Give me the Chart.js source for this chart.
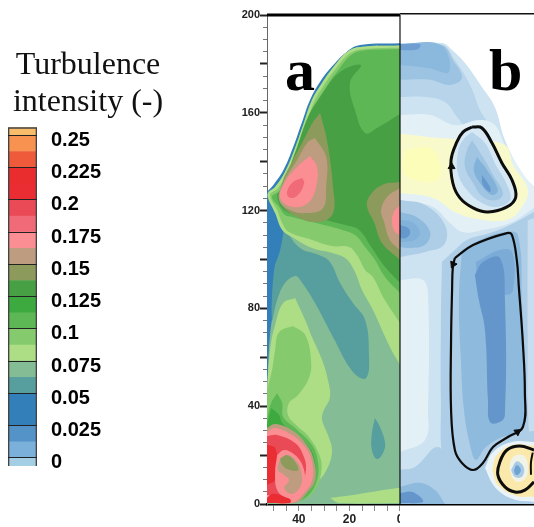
<!DOCTYPE html>
<html>
<head>
<meta charset="utf-8">
<title>Turbulence intensity</title>
<script src="https://cdn.jsdelivr.net/npm/chart.js@4/dist/chart.umd.js"></script>
<style>
  body { margin: 0; background: #fff; width: 534px; height: 527px; overflow: hidden; position: relative; }
  canvas { position: absolute; left: 0; top: 0; }
  #fieldChart { filter: blur(0.5px); }
  .panel { position: absolute; top: 40px; font: bold 60px/60px "Liberation Serif", serif; color: #000; }
</style>
</head>
<body>
<canvas id="fieldChart" width="534" height="527"></canvas>
<canvas id="scaleChart" width="168" height="527"></canvas>
<div class="panel" style="left:285px">a</div>
<div class="panel" style="left:489px">b</div>
<script>
// colour scale
const levels = [0, 0.025, 0.05, 0.075, 0.1, 0.125, 0.15, 0.175, 0.2, 0.225, 0.25];
const levelLabels = ['0', '0.025', '0.05', '0.075', '0.1', '0.125', '0.15', '0.175', '0.2', '0.225', '0.25'];
const bandEdges = [-0.00625, 0, 0.0125, 0.025, 0.0375, 0.05, 0.0625, 0.075, 0.0875, 0.1, 0.1125, 0.125,
  0.1375, 0.15, 0.1625, 0.175, 0.1875, 0.2, 0.2125, 0.225, 0.2375, 0.25, 0.25625];
const bandColors = ['#A4CEE4', '#7AB0DA', '#5393C8', '#337FBA', '#337FBA', '#579E9E', '#84BC95', '#ADDE85',
  '#85CB6E', '#5DB755', '#3CAA3E', '#48A044', '#8C9A5C', '#BE9C80', '#FB8E93', '#F06A78', '#EA4A55', '#E92D32',
  '#E92D2E', '#EE5A3A', '#F79250', '#F9BC6B'];

// axes
const yMajorTicks = [0, 20, 40, 60, 80, 100, 120, 140, 160, 180, 200];
const yLabels = [0, 40, 80, 120, 160, 200];
const xTicks = [50, 45, 40, 35, 30, 25, 20, 15, 10, 5, 0];
const xLabels = [40, 20, 0];

// panel a, contours of turbulence intensity, [r, z]
const aDome = [[0,188.4],[15.8,187.7],[21,185],[26.4,179.5],[31.6,172.7],[35.6,165.2],[38.9,155.7],[42.2,146.1],[46.1,136.6],[50.1,130.5],[52.6,127.7],[52.6,0],[0,0]];
const aBase = [[0,187.5],[15.8,186.9],[20.9,184.9],[25.7,179.5],[30.8,172.2],[34.8,165.2],[38.3,155],[41.5,145.6],[45.5,135.8],[49.4,129.7],[52.2,127.2],[49.4,122.3],[46.2,114.1],[45.5,105.9],[47.4,95.7],[49.4,83.4],[51.4,69.1],[52.2,54.8],[52.6,46.6],[52.6,0],[0,0]];
const aTeal = [[45.8,112.9],[39.5,104.7],[32,101.8],[27.7,99],[23.7,90.4],[18.6,82.2],[13.8,75.3],[12.3,61.8],[13.4,51.5],[18.6,54],[26.5,68.3],[33.6,82.2],[39.5,91.6],[41.5,93.3],[45.5,90.4],[48.6,83.4],[50.6,75.3],[49.8,95.7],[47.4,103.9]];
const aTealSmall = [[9.9,35.2],[11.1,29],[11.1,22.1],[9.1,18.4],[6.7,20.9],[5.9,24.9],[7.9,31.5]];
const aLower075 = [[41.5,84.3],[37.5,75.3],[34.8,68.3],[30.8,58.9],[28.5,50.7],[27.7,43.8],[30.4,37.6],[30.8,34.4],[28.5,28.2],[26.9,22.1],[28.5,15.1],[32.8,8.6],[39.5,2.9],[45.5,0.4],[52.6,0.4],[52.6,46.6],[51.4,63],[49.4,73.2],[46.2,82.2]];
const aFloor075 = [[27.7,2.5],[18.6,3.7],[1.2,6.5],[0,6.5],[0,0.4],[23.7,0.4]];
const aLower09 = [[42.3,72.8],[37.5,69.1],[35.2,58.9],[36,51.5],[40.3,44.6],[43.9,41.3],[44.3,36.4],[41.1,32.3],[36,27.4],[31.6,19.2],[31.2,12.7],[33.6,5.7],[38.7,1.6],[52.6,0.4],[52.6,46.6],[50.6,54.8],[49.4,63],[47.8,70.3]];
const aLower11 = [[48.6,45.4],[46.6,41.3],[46.2,35.6],[41.5,31.1],[34.8,24.1],[32.4,16.8],[32.8,9.8],[36,3.7],[41.5,0.8],[52.6,0.4],[52.6,34.4],[51,41.3]];
const aLower125 = [[51,39.3],[47.8,36.4],[46.6,33.1],[41.9,29],[36,23.3],[33.6,16.8],[34,9],[37.5,3.7],[41.5,1.2],[52.6,0.4],[52.6,32.3]];
const aVortexTan = [[52.6,31.1],[49.4,32.7],[42.3,29.9],[36.8,24.1],[34,17.6],[33.6,9.8],[36.8,4.5],[41.5,0.4],[52.6,0.4]];
const aVortexPink = [[52.6,29.4],[49.4,31.1],[42.7,28.2],[37.5,23.3],[34.8,17.2],[34.8,9.8],[37.9,4.5],[42.7,0.4],[52.6,0.4]];
const aVortexRed = [[52.6,27.8],[48.6,28.2],[41.5,24.9],[38.3,20],[37.2,13.9],[39.5,7.8],[45.5,3.7],[52.6,3.7]];
const aVortexWall = [[52.6,24.1],[49.4,22.9],[48.6,16],[49.4,9.8],[52.6,7.8]];
const aVortexFloor = [[52.6,2.5],[50.6,4.1],[47.4,3.7],[43.5,2],[43.5,0.4],[52.6,0.4]];
const aVortexInner = [[48.6,20],[45.8,22.1],[41.5,20],[38.3,15.1],[37.9,8.6],[41.5,2.9],[45.5,2.9],[48.6,5.7],[49.4,12.7]];
const aVortexCrescent = [[47.4,18.8],[44.3,20],[40.7,17.2],[39.1,13.1],[39.1,7.8],[42.7,4.1],[45.8,6.5],[43.9,9.8],[45.8,11.9],[48.2,13.9]];
const aVortexCore = [[47.4,18.4],[44.7,20],[41.5,17.2],[40.3,13.9],[43.5,13.9],[46.6,16]];
const aUpper075 = [[0,187.5],[15.8,186.9],[20.9,184.9],[25.7,179.5],[30.8,172.2],[34.8,165.2],[38.3,155],[41.5,145.6],[45.5,135.8],[49.4,129.7],[52.2,127.2],[52.2,125.2],[49.4,119],[46.6,112.1],[42.7,109.2],[34.8,104.7],[26.9,102.7],[21.7,100.6],[18.2,95.7],[15,87.5],[10.7,79.3],[4,64.2],[0,56.9]];
const aUpper09 = [[0,186.7],[15.8,185.9],[20.2,184],[24.9,178.7],[30,171.4],[34,164.4],[37.5,154.2],[40.7,144.8],[44.7,135],[48.6,128.8],[51.4,126.4],[48.6,120.2],[46.6,114.9],[43.9,111.2],[34.8,108],[26.9,105.5],[20.2,105.1],[17,101.8],[13.8,95.7],[10.7,92.8],[6.7,84.7],[0,74]];
const aUpper11 = [[0,186.1],[15.8,185.3],[19.8,183.2],[24.1,177.9],[29.2,170.6],[33.2,163.6],[36.8,153.4],[39.9,144],[43.9,134.2],[47.8,128],[50.6,125.6],[47.8,121.5],[45.5,118.2],[42.7,117.4],[34.8,115.3],[22.9,112.1],[17.8,110],[13.8,105.1],[9.9,99.8],[5.9,92.8],[0,86.3]];
const aUpper125 = [[0,159.5],[9.1,153.8],[13.8,151.7],[17.8,161.1],[19.8,172.2],[15.4,179.5],[23.7,176.7],[31.6,166.5],[36.4,158.3],[40.7,146],[46.6,129.7],[48.6,125.6],[44.7,119.4],[34.8,117.4],[21.7,114.1],[16.2,112.1],[11.1,104.7],[5.9,96.9],[0,90.4]];
const aShoulder15 = [[31.6,159.9],[28.9,148.9],[26.5,129.7],[26.5,119],[31.6,115.3],[40.7,117.4],[47.4,123.5],[46.6,131.3],[42.3,140.7],[37.5,150.1],[34.4,156.2]];
const aShoulder16 = [[33.6,149.7],[29.2,141.9],[29.2,129.7],[30.4,121.1],[36.8,119],[43.5,120.2],[47.8,124.3],[46.2,131.3],[40.7,140.7],[36.4,148.1]];
const aShoulder17 = [[35.6,142.3],[32.8,137.8],[33.2,129.7],[36.4,123.1],[42.3,121.5],[47.4,125.2],[45.5,131.7],[40.7,137.8]];
const aShoulder19 = [[38.7,133.3],[37.9,131.3],[40.3,126.4],[43.5,125.2],[44.7,127.6],[42.3,131.7]];
const aAxis15 = [[0,131.7],[7.1,130.5],[12.3,125.6],[13,121.5],[10.3,115.3],[7.1,106.7],[0,99.8]];
const aAxis16 = [[0,129.2],[5.1,125.6],[7.5,120.2],[6.3,115.3],[4,108],[0,103.9]];
const aAxis17 = [[0,122.3],[2.4,119.4],[3.2,115.3],[2,111.2],[0,110]];

// panel b, contours of the second field
const bDome = [[0,188.5],[-16.6,188.5],[-20.6,185.7],[-25.7,180.4],[-32.4,170.6],[-37.5,162.4],[-41.5,148.9],[-48.2,135.4],[-53,129.7],[-53,0],[0,0]];
const bRoofLight = [[0,188.1],[-16.6,187.7],[-21.7,181.6],[-27.7,171.4],[-31.6,161.1],[-34.4,155],[-27.7,153],[-22.9,157.9],[-17.8,164.4],[-9.9,166.5],[0,166.5]];
const bRoofMid = [[0,188.1],[-16.6,187.7],[-20.9,181.6],[-24.5,174.3],[-19.8,171.4],[-11.9,173.5],[0,173.5]];
const bRoofDark = [[0,188.1],[-16.2,187.7],[-19.4,176.7],[-11.1,178.3],[0,179.5]];
const bRoofTop = [[0,188.1],[-7.9,188.1],[-7.1,186],[0,185.7]];
const bPale = [[0,159.1],[-11.9,159.1],[-21.7,155],[-31.6,157.1],[-37.5,155],[-41.5,146.8],[-48.2,135.8],[-53,129.2],[-53,121.1],[-43.5,114.9],[-32.8,112.1],[-24.9,111.2],[-19.8,114.9],[-13,121.5],[0,124.3]];
const bYellow = [[0,151.5],[-15,149.7],[-27.7,148.9],[-41.5,146.8],[-44.7,138.7],[-50.6,128.4],[-47.4,120.2],[-42.3,116.2],[-32.8,116.2],[-22.5,119],[-13,125.2],[0,127.2]];
const bYellowCore = [[-2,144.8],[-11.9,145.6],[-15.8,138.7],[-14.6,132.5],[-5.9,132.5],[-1.2,136.6]];
const bNest1 = [[-28.5,155],[-32.8,154.2],[-36.4,147.6],[-40.7,139.5],[-44.7,132.5],[-45.8,125.6],[-42.3,121.9],[-34.8,120.2],[-28.9,121.9],[-23.7,126],[-21.7,131.3],[-20.9,140.7],[-22.9,148.1],[-25.3,152.1]];
const bNest2 = [[-28.5,152.1],[-33.6,147.6],[-37.5,139.5],[-42.7,129.7],[-43.5,124.3],[-38.7,121.5],[-32.4,123.1],[-26.5,128.4],[-22.9,135.4],[-22.9,143.6],[-24.9,148.9]];
const bNest3 = [[-28.5,148.9],[-32.8,141.9],[-36.8,134.6],[-40.7,127.2],[-38.3,124.3],[-32.8,125.6],[-28.9,131.3],[-25.7,137.8],[-26.5,144.8]];
const bNest4 = [[-30.4,141.9],[-34.4,136.6],[-38.7,128.4],[-36.4,126.4],[-31.6,131.3],[-29.2,136.6]];
const bNest5 = [[-32.4,134.6],[-35.6,129.7],[-35.6,127.6],[-32.8,130.5]];
const bColumnOuter = [[-16.6,99],[-21.7,103.9],[-26.5,108],[-35.6,110.8],[-43.5,114.1],[-53,119.4],[-53,0],[-27.7,0],[-21.7,7.8],[-17,17.2],[-16.2,42.5],[-16.2,75.3]];
const bColumnEdge = [[-50.5,116],[-53,117],[-53,30],[-51,30],[-50.5,70]];
const bColumnMid = [[-24.5,103.9],[-31.6,108],[-41.5,111.2],[-46.6,110],[-48.2,83.4],[-49,50.7],[-48.2,30.3],[-39.5,27],[-33.6,22.9],[-30,18],[-27.7,24.1],[-25.3,38.4],[-24.1,58.9],[-23.3,83.4]];
const bColumnHead = [[-30,99],[-39.5,103.9],[-44.3,103.1],[-44.7,87.5],[-41.9,85.5],[-31.6,87.5]];
const bColumnCore = [[-29.6,93.7],[-32.8,99],[-39.5,100.6],[-41.5,83.4],[-41.5,36.4],[-39.5,33.5],[-35.6,33.5],[-34.8,42.5],[-33.6,71.2],[-31.2,83.4]];
const bWallPale = [[0,91.6],[-9.1,91.6],[-11.1,84.7],[-11.1,38.4],[-9.9,26.2],[0,21.3]];
const bFloor1 = [[0,13.9],[-5.9,15.1],[-15,23.3],[-19.8,13.9],[-27.7,0],[0,0]];
const bFloor2 = [[0,7],[-7.9,8.6],[-13.8,5.7],[-17.8,0],[0,0]];
const bFloor3 = [[0,4.5],[-5.1,4.9],[-9.1,0.8],[0,0.4]];
const bBlob1 = [[0,124.3],[-9.9,122.3],[-17.8,114.1],[-17.4,106],[-9.9,103.1],[0,101]];
const bBlob2 = [[0,119.4],[-7.1,117],[-11.9,111.2],[-9.9,106],[-4,104.7],[0,105.1]];
const bBlob3 = [[0,116.2],[-4.7,115.3],[-7.9,111.2],[-5.9,108],[0,107.2]];
const bBlob4 = [[0,114.1],[-3.2,112.9],[-4,110.8],[-2.4,108.8],[0,108.8]];
const bHalo = [[-33.6,14.7],[-36.8,21.3],[-44.3,25.4],[-53,25.4],[-53,0.8],[-44.7,2],[-37.5,7]];
const bHaloYellow = [[-36.4,13.9],[-38.3,20],[-44.7,24.1],[-53,23.7],[-53,2.9],[-46.2,3.3],[-38.7,7.8]];
const bHaloInner = [[-43.1,14.7],[-44.7,19.2],[-48.6,20],[-50.6,16],[-49.4,10.2],[-45.5,9.4]];
const bHaloBlue = [[-43.9,13.9],[-46.2,17.5],[-48.9,15.1],[-48.4,11.3],[-45.5,11]];
const bHaloCore = [[-45.1,13.9],[-46.2,15.9],[-47.8,13.9],[-46.6,11.9],[-45.5,12.3]];

// streamlines in panel b
const streamUpper = [[-28.5,154.2],[-32.4,153.8],[-36.4,147.6],[-40.3,139.5],[-44.3,132.5],[-45.8,125.6],[-42.3,121.5],[-34.8,119.4],[-28.9,121.1],[-23.7,125.2],[-20.9,131.3],[-20.2,140.7],[-22.5,148.1],[-24.9,152.1],[-28.5,154.2]];
const streamMiddle = [[-21.7,100.6],[-28.9,105.9],[-42.3,110.8],[-44.3,110],[-46.2,99.8],[-47,88.8],[-48.6,65.8],[-49.4,45.4],[-48.6,31.5],[-42.7,27.4],[-36.8,23.3],[-32.8,16.8],[-28.9,13.9],[-24.5,16.8],[-21.7,22.1],[-20.2,38.4],[-20.2,67.1],[-20.6,87.5],[-20.9,96.9],[-21.7,100.6]];
const streamLower = [[-53,22.1],[-47.4,23.7],[-42.3,22.1],[-39.5,17.2],[-38.7,11.9],[-41.5,7],[-45.5,4.9],[-49.4,5.7],[-53,9]];
const streamLowerEnd = [[-52.5,21],[-51.8,17],[-51.8,12]];
const arrowPoints = [[-20.4,138],[-21,98],[-46.5,29.5]];
const arrowAngles = [0, 205, 55];

const bp = ['#CDE3F1', '#B7D4EA', '#9DC3E2', '#8BB8DD', '#6E9FD0', '#E3F1F7', '#F9FACB', '#FCFDB9', '#D5E8F4',
  '#B8D4EB', '#9FC5E3', '#82B1D9', '#6598CD', '#AECDE7', '#8DBADD', '#7BABD6', '#6596CB', '#C6DEEF'];

const layers = [
  [aDome, bandColors[4]], [aBase, bandColors[6]], [aTeal, bandColors[5]], [aTealSmall, bandColors[5]],
  [aLower075, bandColors[7]], [aFloor075, bandColors[7]], [aLower09, bandColors[8]], [aLower11, bandColors[9]],
  [aLower125, bandColors[10]], [aVortexTan, bandColors[13]], [aVortexPink, bandColors[14]], [aVortexRed, bandColors[16]],
  [aVortexWall, bandColors[17]], [aVortexFloor, bandColors[17]], [aVortexInner, bandColors[14]],
  [aVortexCrescent, bandColors[13]], [aVortexCore, bandColors[12]],
  [aUpper075, bandColors[7]], [aUpper09, bandColors[8]], [aUpper11, bandColors[9]], [aUpper125, bandColors[11]],
  [aShoulder15, bandColors[12]], [aShoulder16, bandColors[13]], [aShoulder17, bandColors[14]], [aShoulder19, bandColors[15]],
  [aAxis15, bandColors[12]], [aAxis16, bandColors[13]], [aAxis17, bandColors[14]],
  [bDome, bp[0]], [bRoofLight, bp[1]], [bRoofMid, bp[2]], [bRoofDark, bp[3]], [bRoofTop, bp[4]],
  [bColumnOuter, bp[13]], [bColumnEdge, bp[17]], [bColumnMid, bp[14]], [bColumnHead, bp[15]], [bColumnCore, bp[16]],
  [bWallPale, bp[5]], [bFloor1, bp[13]], [bFloor2, bp[14]], [bFloor3, bp[16]],
  [bPale, bp[5]], [bYellow, bp[6]], [bYellowCore, bp[7]],
  [bNest1, bp[8]], [bNest2, bp[9]], [bNest3, bp[10]], [bNest4, bp[11]], [bNest5, bp[12]],
  [bBlob1, bp[13]], [bBlob2, bp[14]], [bBlob3, bp[11]], [bBlob4, bp[12]],
  [bHalo, '#EAF4F8'], [bHaloYellow, '#FBE9AC'], [bHaloInner, '#F0F3E6'], [bHaloBlue, '#A9CBE6'], [bHaloCore, '#6EA3D2']
];

const xEdge = 52.6;

// points on a wall get doubled so the curve keeps its corner there
function toPoints(pts) {
  return pts.flatMap(function (p) {
    const q = { x: p[0], y: p[1] };
    return (p[0] === 0 || p[1] === 0 || Math.abs(p[0]) >= xEdge) ? [q, q] : [q];
  });
}

const datasets = layers.map(function (l) {
  return {
    data: toPoints(l[0].concat([l[0][0]])),
    showLine: true, fill: 'shape', tension: 0.4,
    backgroundColor: l[1], borderWidth: 0, pointRadius: 0
  };
});

function lineSet(pts, width, color) {
  return {
    data: pts.map(function (p) { return { x: p[0], y: p[1] }; }),
    showLine: true, fill: false, tension: 0.4, clip: 3,
    borderColor: color, borderWidth: width, pointRadius: 0
  };
}

datasets.push(lineSet(streamUpper, 3, '#0c0c0c'));
datasets.push(lineSet(streamMiddle, 2.2, '#0c0c0c'));
datasets.push(lineSet(streamLower, 3, '#0c0c0c'));
datasets.push(lineSet(streamLowerEnd, 2, '#0c0c0c'));
datasets.push({
  data: arrowPoints.map(function (p) { return { x: p[0], y: p[1] }; }),
  pointStyle: 'triangle', pointRadius: 4, rotation: arrowAngles,
  backgroundColor: '#0c0c0c', borderColor: '#0c0c0c', borderWidth: 1
});
// frame: top edge and the line between the two panels
datasets.push(lineSet([[xEdge, 200], [0, 200]], 3, '#000'));
datasets.push(lineSet([[0, 200.5], [-53, 200.5]], 1.5, '#111'));
datasets.push(lineSet([[0, 200], [0, 0]], 1.2, '#111'));

datasets.forEach(function (d, i) { d.order = -i; });

// the 0 under the centre line is cut in half in the picture
const cropZero = {
  id: 'cropZero',
  afterDraw: function (chart) {
    const px = chart.scales.x.getPixelForValue(0);
    chart.ctx.save();
    chart.ctx.fillStyle = '#fff';
    chart.ctx.fillRect(px, chart.chartArea.bottom + 2, 40, 25);
    chart.ctx.restore();
  }
};

new Chart(document.getElementById('fieldChart'), {
  type: 'scatter',
  data: { datasets: datasets },
  plugins: [cropZero],
  options: {
    responsive: false, animation: false, events: [],
    layout: { autoPadding: false, padding: { top: 15, left: 0, right: 0, bottom: 0 } },
    plugins: { legend: { display: false }, tooltip: { enabled: false } },
    scales: {
      x: {
        type: 'linear', reverse: true, min: -53, max: xEdge,
        afterFit: function (s) { s.height = 23; },
        afterBuildTicks: function (s) { s.ticks = xTicks.map(function (v) { return { value: v }; }); },
        grid: { drawOnChartArea: false, tickLength: 7, tickColor: '#8a8a8a', tickWidth: 1 },
        border: { color: '#000', width: 2.5 },
        ticks: {
          autoSkip: false, maxRotation: 0, padding: 1, color: '#222',
          font: { family: '"Liberation Sans"', weight: 'bold', size: 12 },
          callback: function (v) { return xLabels.includes(v) ? String(v) : ''; }
        }
      },
      yMinor: {
        type: 'linear', position: 'left', min: 0, max: 200, weight: 1,
        afterFit: function (s) { s.width = 0; },
        grid: { drawOnChartArea: false, tickLength: 4, tickColor: '#777', tickWidth: 1 },
        border: { display: false },
        ticks: { stepSize: 5, autoSkip: false, display: false }
      },
      y: {
        type: 'linear', position: 'left', min: 0, max: 200, weight: 2,
        afterFit: function (s) { s.width = 267; },
        afterBuildTicks: function (s) { s.ticks = yMajorTicks.map(function (v) { return { value: v }; }); },
        grid: { drawOnChartArea: false, tickLength: 7, tickColor: '#222', tickWidth: 2 },
        border: { color: '#666', width: 1 },
        ticks: {
          autoSkip: false, padding: 0, color: '#222',
          font: { family: '"Liberation Sans"', weight: 'bold', size: 11 },
          callback: function (v) { return yLabels.includes(v) ? String(v) : ''; }
        }
      }
    }
  }
});

// colour bar on the left
const scaleSets = bandColors.map(function (c, i) {
  return {
    data: [[bandEdges[i], bandEdges[i + 1]]], backgroundColor: c,
    grouped: false, barPercentage: 1, categoryPercentage: 1, borderWidth: 0
  };
});
scaleSets.unshift({
  data: [[bandEdges[0], bandEdges[bandEdges.length - 1]]], backgroundColor: 'rgba(0,0,0,0)',
  borderColor: '#444', borderWidth: 1, grouped: false, barPercentage: 1, categoryPercentage: 1
});

new Chart(document.getElementById('scaleChart'), {
  type: 'bar',
  data: { labels: ['intensity'], datasets: scaleSets },
  options: {
    responsive: false, animation: false, events: [],
    layout: { autoPadding: false, padding: { left: 8, right: 0, top: 0, bottom: 61 } },
    plugins: {
      legend: { display: false }, tooltip: { enabled: false },
      title: {
        display: true, text: ['Turbulence', 'intensity (-)'], color: '#111',
        font: { family: '"Liberation Serif"', size: 32, weight: 'normal', lineHeight: 1.13 },
        padding: { top: 48, bottom: 7 }
      }
    },
    scales: {
      x: { display: false },
      y: {
        position: 'right', min: bandEdges[0], max: bandEdges[bandEdges.length - 1],
        afterFit: function (s) { s.width = 131; },
        afterBuildTicks: function (s) { s.ticks = levels.map(function (v) { return { value: v }; }); },
        grid: { color: '#222', z: 1, drawTicks: false },
        border: { display: false },
        ticks: {
          autoSkip: false, padding: 14, labelOffset: 5, color: '#000',
          font: { family: '"Liberation Sans"', weight: 'bold', size: 20 },
          callback: function (v, i) { return levelLabels[i]; }
        }
      }
    }
  }
});
</script>
</body>
</html>
